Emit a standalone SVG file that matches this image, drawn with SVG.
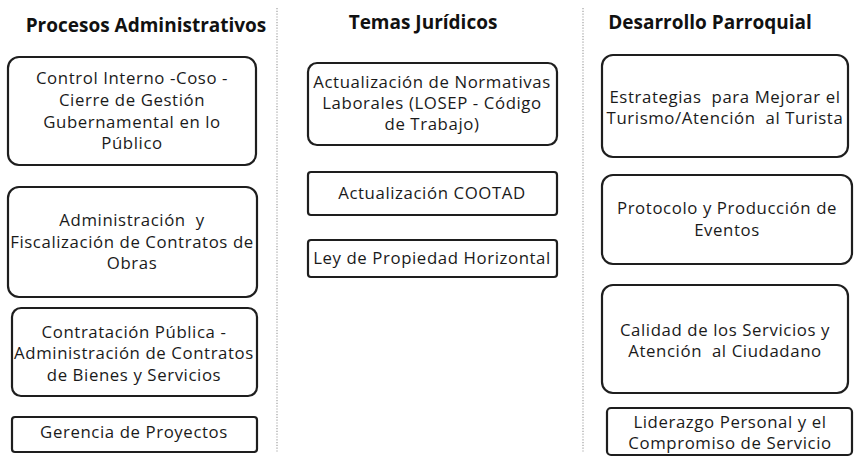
<svg xmlns="http://www.w3.org/2000/svg" width="857" height="459" viewBox="0 0 857 459">
<style>
.bg{fill:#fff}
.box{fill:#fff;stroke:#1e1e1e;stroke-width:2.2}
.t{font-family:"Open Sans",Lato,"Liberation Sans",sans-serif;font-size:16.8px;letter-spacing:0.6px;fill:#1a1a1a;text-anchor:middle;white-space:pre}
.h{font-family:"Open Sans",Lato,"Liberation Sans",sans-serif;font-size:19px;font-weight:bold;fill:#111;text-anchor:middle}
.div{stroke:#9a9a9a;stroke-width:1.1;stroke-dasharray:1.2 1.6;fill:none}
</style>
<rect class="bg" x="0" y="0" width="857" height="459"/>
<g id="dividers">
<line class="div" x1="277" y1="8" x2="277" y2="452"/>
<line class="div" x1="583" y1="8" x2="583" y2="452"/>
</g>
<g id="headers">
<text class="h" x="146" y="32">Procesos Administrativos</text>
<text class="h" x="423" y="29">Temas Jurídicos</text>
<text class="h" x="710" y="29">Desarrollo Parroquial</text>
</g>
<g id="connectors"></g>
<g id="n1">
<rect class="box" x="8" y="57" width="248" height="108" rx="11"/>
<text class="t" x="132" y="84">Control Interno -Coso -</text>
<text class="t" x="132" y="106">Cierre de Gestión</text>
<text class="t" x="132" y="128">Gubernamental en lo</text>
<text class="t" x="132" y="149">Público</text>
</g>
<g id="n2">
<rect class="box" x="8" y="187" width="249" height="110" rx="11"/>
<text class="t" x="132" y="226" xml:space="preserve">Administración  y</text>
<text class="t" x="132" y="248">Fiscalización de Contratos de</text>
<text class="t" x="132" y="269">Obras</text>
</g>
<g id="n3">
<rect class="box" x="12" y="308" width="245" height="88" rx="9"/>
<text class="t" x="134" y="338">Contratación Pública -</text>
<text class="t" x="134" y="359">Administración de Contratos</text>
<text class="t" x="134" y="381">de Bienes y Servicios</text>
</g>
<g id="n4">
<rect class="box" x="12" y="417" width="245" height="35" rx="3"/>
<text class="t" x="134" y="438">Gerencia de Proyectos</text>
</g>
<g id="m1">
<rect class="box" x="308" y="63" width="249" height="82" rx="9"/>
<text class="t" x="432" y="88">Actualización de Normativas</text>
<text class="t" x="432" y="109">Laborales (LOSEP - Código</text>
<text class="t" x="432" y="130">de Trabajo)</text>
</g>
<g id="m2">
<rect class="box" x="308" y="172" width="249" height="43" rx="3"/>
<text class="t" x="432" y="199">Actualización COOTAD</text>
</g>
<g id="m3">
<rect class="box" x="308" y="240" width="249" height="37" rx="3"/>
<text class="t" x="432" y="264">Ley de Propiedad Horizontal</text>
</g>
<g id="r1">
<rect class="box" x="602" y="55" width="246" height="102" rx="11"/>
<text class="t" x="725" y="103" xml:space="preserve">Estrategias  para Mejorar el</text>
<text class="t" x="725" y="124" xml:space="preserve">Turismo/Atención  al Turista</text>
</g>
<g id="r2">
<rect class="box" x="602" y="175" width="250" height="89" rx="11"/>
<text class="t" x="727" y="214">Protocolo y Producción de</text>
<text class="t" x="727" y="236">Eventos</text>
</g>
<g id="r3">
<rect class="box" x="602" y="285" width="246" height="108" rx="11"/>
<text class="t" x="725" y="336">Calidad de los Servicios y</text>
<text class="t" x="725" y="357" xml:space="preserve">Atención  al Ciudadano</text>
</g>
<g id="r4">
<rect class="box" x="607" y="408" width="245" height="47" rx="4"/>
<text class="t" x="730" y="428">Liderazgo Personal y el</text>
<text class="t" x="730" y="449">Compromiso de Servicio</text>
</g>
</svg>
